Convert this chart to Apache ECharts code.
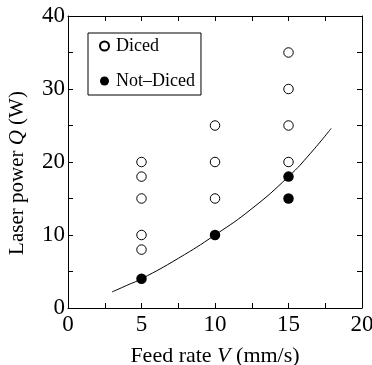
<!DOCTYPE html>
<html><head><meta charset="utf-8">
<script src="https://cdn.jsdelivr.net/npm/echarts@6/dist/echarts.min.js"></script>
<style>html,body{margin:0;padding:0;background:#fff}#c{width:372px;height:365px}</style>
</head><body><div id="c"></div>
<script>
const dicedPoints = [[5,8],[5,10],[5,15],[5,18],[5,20],[10,15],[10,20],[10,25],[15,20],[15,25],[15,30],[15,35]];
const notDicedPoints = [[5,4],[10,10],[15,18],[15,15]];
const curvePoints = [[3,2.2],[4,3.1],[5,4],[7.5,6.8],[10,10],[12.5,13.6],[15,18],[16.5,21.2],[17.9,24.6]];
const xTicks = [0,5,10,15,20];
const yTicks = [0,10,20,30,40];

const font = "'Liberation Serif', 'Times New Roman', Times, serif";
const axisCommon = {
  axisLine:{show:true,onZero:false,lineStyle:{color:'#000',width:1}},
  axisTick:{show:true,inside:true,length:5,lineStyle:{color:'#000'}},
  minorTick:{show:true,splitNumber:2,length:5,lineStyle:{color:'#000'}},
  splitLine:{show:false}
};
const chart = echarts.init(document.getElementById('c'));
chart.setOption({
  animation:false,
  backgroundColor:'#fff',
  grid:{left:68,right:10,top:16,bottom:57,containLabel:false,outerBoundsMode:'none'},
  legend:{
    orient:'vertical', left:88, top:33,
    data:['Diced','Not–Diced'],
    borderColor:'#000', borderWidth:1, borderRadius:0,
    padding:[4,6,5,11], itemGap:17, itemWidth:9, itemHeight:9,
    textStyle:{fontFamily:font,fontSize:18,color:'#000',padding:[0,0,0,2],lineHeight:18}
  },
  xAxis:[
    Object.assign({type:'value',min:0,max:20,interval:5,position:'bottom',
      name:'Feed rate {i|V} (mm/s)',nameLocation:'middle',nameGap:37,
      nameTextStyle:{fontFamily:font,fontSize:22,color:'#000',rich:{i:{fontFamily:font,fontSize:22,fontStyle:'italic',color:'#000'}}},
      axisLabel:{margin:5,fontFamily:font,fontSize:23,color:'#000',formatter:v=>xTicks.includes(v)?String(v):''}},axisCommon),
    Object.assign({type:'value',min:0,max:20,interval:5,position:'top',axisLabel:{show:false}},axisCommon)
  ],
  yAxis:[
    Object.assign({type:'value',min:0,max:40,interval:10,position:'left',
      name:'Laser power {i|Q} (W)',nameLocation:'middle',nameGap:40,
      nameTextStyle:{fontFamily:font,fontSize:21,color:'#000',padding:[0,22,0,0],rich:{i:{fontFamily:font,fontSize:21,fontStyle:'italic',color:'#000'}}},
      axisLabel:{margin:3,fontFamily:font,fontSize:23,color:'#000',formatter:v=>yTicks.includes(v)?String(v):''}},axisCommon),
    Object.assign({type:'value',min:0,max:40,interval:10,position:'right',axisLabel:{show:false}},axisCommon)
  ],
  series:[
    {name:'curve',type:'line',data:curvePoints,smooth:true,showSymbol:false,symbol:'none',
      lineStyle:{color:'#000',width:1},z:1,silent:true},
    {name:'Diced',type:'scatter',data:dicedPoints,symbol:'circle',symbolSize:9.5,
      itemStyle:{color:'#fff',borderColor:'#000',borderWidth:1,opacity:1},z:3},
    {name:'Not–Diced',type:'scatter',data:notDicedPoints,symbol:'circle',symbolSize:10.5,
      itemStyle:{color:'#000',borderColor:'#000',borderWidth:0,opacity:1},z:3}
  ]
});
</script></body></html>
